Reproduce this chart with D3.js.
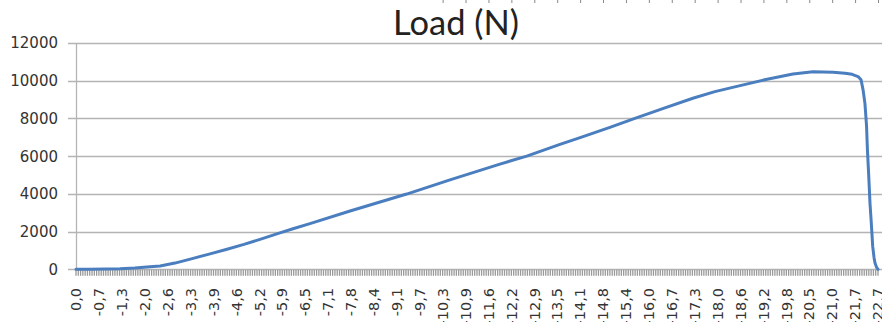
<!DOCTYPE html>
<html>
<head>
<meta charset="utf-8">
<script src="https://cdn.jsdelivr.net/npm/d3@7/dist/d3.min.js"></script>
<style>
  html, body { margin: 0; padding: 0; background: #fff; }
  svg { display: block; }
</style>
</head>
<body>
<svg id="chart" width="882" height="322"></svg>
<script>
// ---- data ----
const title = "Load (N)";
const xLabels = ["0,0","-0,7","-1,3","-2,0","-2,6","-3,3","-3,9","-4,6","-5,2","-5,9",
  "-6,5","-7,1","-7,8","-8,4","-9,1","-9,7","-10,3","-10,9","-11,6","-12,2",
  "-12,9","-13,5","-14,1","-14,8","-15,4","-16,0","-16,7","-17,3","-18,0","-18,6",
  "-19,2","-19,8","-20,5","-21,0","-21,7","-22,7"];
const yTicks = [0, 2000, 4000, 6000, 8000, 10000, 12000];
// position along the category axis (in label units) and load (N)
const pos  = [0, 0.61, 1.27, 1.92, 2.57, 3.23, 3.67, 4.32, 5.11, 5.85, 6.59, 7.33, 8.03, 8.90, 9.47,
  10.21, 11.96, 14.43, 16.32, 18.50, 19.67, 21.12, 22.00, 23.30, 24.39, 25.70, 26.92, 27.88,
  28.98, 30.16, 31.29, 32.16, 33.04, 33.56, 33.87, 34.13, 34.26, 34.35, 34.43, 34.50, 34.54,
  34.59, 34.65, 34.70, 34.77, 34.83, 34.87, 34.94, 35.00];
const load = [0, 0, 10, 30, 70, 130, 180, 330, 580, 820, 1060, 1320, 1590, 1930, 2150,
  2420, 3090, 3990, 4740, 5580, 6000, 6620, 6980, 7530, 8000, 8560, 9070, 9420,
  9740, 10080, 10360, 10470, 10450, 10400, 10340, 10220, 10050, 9500, 8800, 7600, 6300,
  5100, 3500, 2600, 1200, 600, 330, 100, 0];
const minorPerLabel = 10;

// ---- layout ----
const svg = d3.select("#chart");
const pLeft = 76, pRight = 878, pTop = 43, pBottom = 269.3;
const gridRight = 882;

const x = d3.scaleLinear().domain([0, xLabels.length - 1]).range([pLeft, pRight]);
const y = d3.scaleLinear().domain([0, 12000]).range([pBottom, pTop]);

// remnant tick marks at top edge (from cropped element above)
const topMarks = d3.range(16, xLabels.length);
svg.append("g").selectAll("line").data(topMarks).join("line")
  .attr("x1", d => x(d) + 0.5).attr("x2", d => x(d) + 0.5)
  .attr("y1", 0).attr("y2", 3)
  .attr("stroke", "#888").attr("stroke-width", 1);

// gridlines + y ticks
const yg = svg.append("g");
yg.selectAll("line.grid").data(yTicks).join("line")
  .attr("class", "grid")
  .attr("x1", pLeft - 8).attr("x2", gridRight)
  .attr("y1", d => Math.round(y(d)) + 0.5).attr("y2", d => Math.round(y(d)) + 0.5)
  .attr("stroke", "#b4b4b4").attr("stroke-width", 1.3);

yg.selectAll("text").data(yTicks).join("text")
  .attr("x", 58).attr("y", d => y(d))
  .attr("dy", "0.36em")
  .attr("text-anchor", "end")
  .attr("font-family", "DejaVu Sans, sans-serif")
  .attr("font-size", 15)
  .attr("fill", "#333")
  .text(d => d);

// y axis line
svg.append("line")
  .attr("x1", pLeft + 0.5).attr("x2", pLeft + 0.5)
  .attr("y1", pTop).attr("y2", pBottom + 1)
  .attr("stroke", "#b4b4b4").attr("stroke-width", 1.3);

// dense category tick marks (comb)
const minor = d3.range(0, (xLabels.length - 1) * minorPerLabel + 1).map(i => i / minorPerLabel);
svg.append("g").selectAll("line").data(minor).join("line")
  .attr("x1", d => x(d)).attr("x2", d => x(d))
  .attr("y1", pBottom + 0.5).attr("y2", pBottom + 6.5)
  .attr("stroke", "#999").attr("stroke-width", 1.3);

// x labels (rotated)
svg.append("g").selectAll("text").data(xLabels).join("text")
  .attr("transform", (d, i) => `translate(${x(i)},288) rotate(-90)`)
  .attr("dy", "0.36em")
  .attr("text-anchor", "end")
  .attr("font-family", "DejaVu Sans, sans-serif")
  .attr("font-size", 14.5)
  .attr("fill", "#333")
  .text(d => d);

// line
const pts = pos.map((p, i) => [p, load[i]]);
svg.append("path")
  .datum(pts)
  .attr("fill", "none")
  .attr("stroke", "#4a7ebf")
  .attr("stroke-width", 3)
  .attr("stroke-linejoin", "round")
  .attr("stroke-linecap", "round")
  .attr("d", d3.line().x(d => x(d[0])).y(d => y(d[1])));

// title
const t = svg.append("text")
  .attr("x", 456).attr("y", 35)
  .attr("text-anchor", "middle")
  .attr("font-family", "Lato, 'Open Sans', sans-serif")
  .attr("font-size", 28)
  .attr("fill", "#222")
  .text(title);
const w = t.node().getComputedTextLength();
t.attr("font-size", 28 * 126 / w);
</script>
</body>
</html>
